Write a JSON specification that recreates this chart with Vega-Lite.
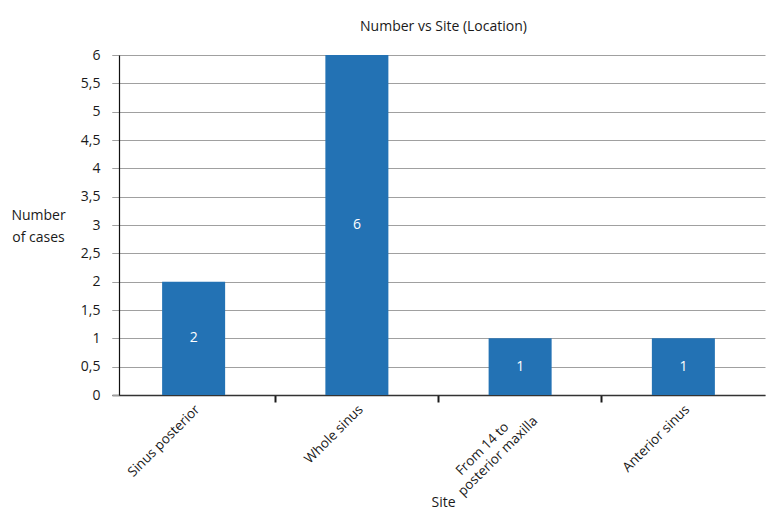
{
  "$schema": "https://vega.github.io/schema/vega-lite/v6.json",
  "width": 657,
  "height": 340,
  "autosize": {"type": "none"},
  "padding": {"left": 112, "top": 55, "right": 0, "bottom": 114},
  "background": "white",
  "config": {
    "view": {"stroke": null},
    "font": "Open Sans",
    "text": {"font": "Open Sans"}
  },
  "title": {
    "text": "Number vs Site (Location)",
    "anchor": "middle",
    "frame": "group",
    "font": "Open Sans",
    "fontSize": 14,
    "fontWeight": "normal",
    "color": "#1a1a1a",
    "offset": 14,
    "dx": 3
  },
  "data": {
    "values": [
      {"site": "Sinus posterior", "cases": 2},
      {"site": "Whole sinus", "cases": 6},
      {"site": "From 14 to\nposterior maxilla", "cases": 1},
      {"site": "Anterior sinus", "cases": 1}
    ]
  },
  "encoding": {
    "x": {
      "field": "site",
      "type": "nominal",
      "sort": null,
      "scale": {"paddingInner": 0, "paddingOuter": 0, "range": [0, 653]},
      "axis": {
        "title": "Site",
        "titleFont": "Open Sans",
        "titleFontSize": 14,
        "titleFontWeight": "normal",
        "titleColor": "#1a1a1a",
        "titleX": 331,
        "titleY": 107,
        "titleBaseline": "middle",
        "labelExpr": "indexof(datum.label, '\\n') >= 0 ? [split(datum.label, '\\n')[0] + '\u00a0\u00a0\u00a0\u00a0\u00a0\u00a0\u00a0\u200b', split(datum.label, '\\n')[1]] : datum.label",
        "labelAngle": -45,
        "labelAlign": "right",
        "labelBaseline": "middle",
        "labelFont": "Open Sans",
        "labelFontSize": 13.5,
        "labelColor": "#1a1a1a",
        "labelLineHeight": 16,
        "labelPadding": 5,
        "labelOffset": 4,
        "bandPosition": 0,
        "domainColor": "#333333",
        "domainWidth": 1.5,
        "tickColor": {"condition": {"test": "datum.index == 0", "value": "transparent"}, "value": "#1a1a1a"},
        "tickWidth": 2,
        "tickSize": 7,
        "grid": false
      }
    }
  },
  "layer": [
    {
      "mark": {"type": "bar", "width": {"band": 0.386}, "color": "#2372b4"},
      "encoding": {
        "y": {
          "field": "cases",
          "type": "quantitative",
          "scale": {"domain": [0, 6], "nice": false},
          "axis": {
            "values": [0, 0.5, 1, 1.5, 2, 2.5, 3, 3.5, 4, 4.5, 5, 5.5, 6],
            "labelExpr": "replace(toString(datum.value), '.', ',')",
            "offset": -7,
            "tickSize": 7,
            "tickColor": "#a0a0a0",
            "domainColor": "#111111",
            "domainWidth": 1.2,
            "grid": true,
            "gridColor": "#a0a0a0",
            "labelFont": "Open Sans",
            "labelFontSize": 14,
            "labelColor": "#1a1a1a",
            "labelPadding": 12,
            "title": ["Number", "of cases"],
            "titleAngle": 0,
            "titleAlign": "center",
            "titleBaseline": "middle",
            "titleX": -81,
            "titleY": 160,
            "titleLineHeight": 22,
            "titleFont": "Open Sans",
            "titleFontSize": 14,
            "titleFontWeight": "normal",
            "titleColor": "#1a1a1a"
          }
        }
      }
    },
    {
      "mark": {"type": "text", "color": "white", "fontSize": 14, "baseline": "middle", "font": "Open Sans"},
      "encoding": {
        "y": {
          "field": "cases",
          "type": "quantitative",
          "scale": {"domain": [0, 12], "nice": false},
          "axis": null
        },
        "text": {"field": "cases", "type": "quantitative"}
      }
    }
  ],
  "resolve": {"scale": {"y": "independent"}}
}
